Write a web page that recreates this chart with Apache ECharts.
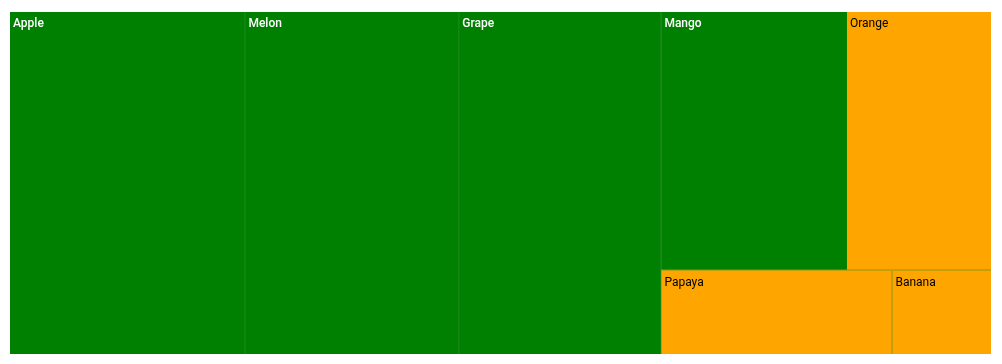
<!DOCTYPE html>
<html><head><meta charset="utf-8">
<script src="https://cdn.jsdelivr.net/npm/echarts@6/dist/echarts.min.js"></script>
<style>html,body{margin:0;padding:0;background:#fff}#c{width:1002px;height:364px}</style>
</head><body><div id="c"></div>
<script>
const names = ['Apple','Melon','Grape','Mango','Orange','Papaya','Banana'];
const values = [24, 21.8, 20.6, 14.3, 11.1, 5.8, 2.5];
const groups = ['high','high','high','high','low','low','low'];
const groupColors = {high:'#008000', low:'#FFA500'};
const labelColors = {high:'#ffffff', low:'#000000'};

function leaf(i){
  return {
    name:names[i], value:values[i],
    itemStyle:{color:groupColors[groups[i]], borderWidth:0},
    label:{color:labelColors[groups[i]], fontWeight: groups[i]==='high'?500:'normal'}
  };
}
function parent(name, children, line, gap){
  return {name:name, children:children,
    itemStyle:{borderWidth:0, gapWidth:gap, borderColor:line}};
}
const greenLine = '#1f8a1f';
const orangeLine = '#f2a212';
const data = [
  leaf(0),
  parent('g1', [
    leaf(1),
    parent('g2', [
      leaf(2),
      parent('g3', [
        parent('top', [leaf(3), leaf(4)], orangeLine, 0),
        parent('bottom', [leaf(5), leaf(6)], orangeLine, 1)
      ], orangeLine, 1)
    ], greenLine, 1)
  ], greenLine, 1)
];
const chart = echarts.init(document.getElementById('c'));
chart.setOption({
  animation:false,
  series:[{
    type:'treemap',
    left:10, top:12, width:981, height:342,
    roam:false, nodeClick:false,
    breadcrumb:{show:false},
    sort:false,
    squareRatio:1,
    leafDepth:null,
    itemStyle:{borderWidth:0, gapWidth:1, borderColor:greenLine},
    levels:[{itemStyle:{borderWidth:0, gapWidth:1, borderColor:greenLine}}],
    label:{show:true, position:'insideTopLeft', fontSize:12, fontFamily:'Roboto', distance:3, padding:[3,0,0,0]},
    upperLabel:{show:false},
    data:data
  }]
});
</script></body></html>
